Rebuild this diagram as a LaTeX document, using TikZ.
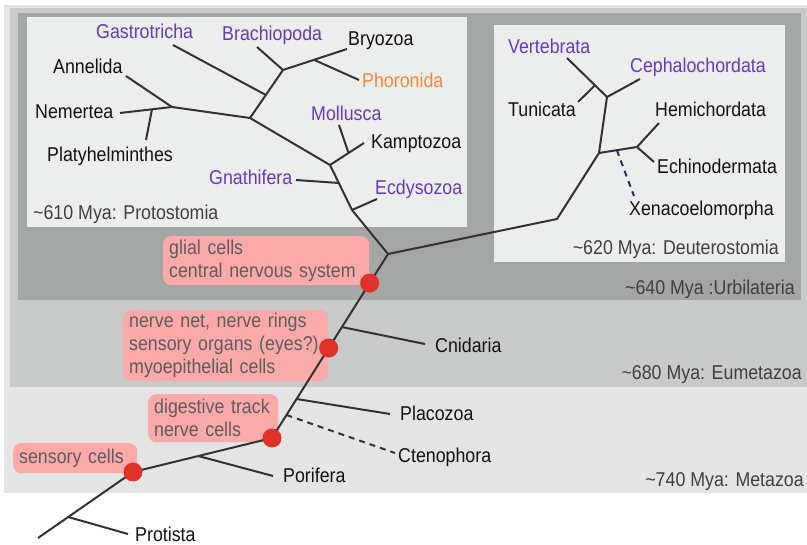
\documentclass[tikz,border=0pt]{standalone}
\usepackage{fontspec}
\setmainfont[FakeStretch=0.89]{Liberation Sans}
\usetikzlibrary{calc}
\definecolor{metazoa}{HTML}{E4E4E4}
\definecolor{eumetazoa}{HTML}{C8C9C9}
\definecolor{urbilat}{HTML}{A4A5A5}
\definecolor{cladebox}{HTML}{ECEEED}
\definecolor{branch}{HTML}{333333}
\definecolor{purp}{HTML}{673AB7}
\definecolor{oran}{HTML}{F5873A}
\definecolor{calloutfill}{HTML}{FBA9A9}
\definecolor{callouttext}{HTML}{5E5E5E}
\definecolor{dotred}{HTML}{E0312A}
\definecolor{xeno}{HTML}{2B2B66}
\tikzset{
  taxon/.style={anchor=base west,inner sep=0pt,font=\fontsize{20}{23}\selectfont,text=black!93},
  pur/.style={taxon,text=purp},
  era/.style={anchor=base east,inner sep=0pt,font=\fontsize{20}{23}\selectfont,text=black!75},
  callout/.style={anchor=north west,fill=calloutfill,rounded corners=8pt,align=left,text=callouttext,
    font=\fontsize{20}{23}\selectfont,inner xsep=6pt,inner ysep=3pt},
  event/.style={circle,fill=dotred,minimum size=19pt,inner sep=0pt},
  branchline/.style={draw=branch,line width=2pt,line join=round},
  lost/.style={branchline,dash pattern=on 6pt off 5pt}
}
\begin{document}
\begin{tikzpicture}[x=1pt,y=-1pt]
\useasboundingbox (0,0) rectangle (807,545);
\fill[white] (0,0) rectangle (807,545);
\fill[metazoa] (4,5) rectangle (807,493);
\fill[eumetazoa] (10,8) rectangle (807,387);
\fill[urbilat] (18,13) rectangle (801,300);
\fill[cladebox] (27,17) rectangle (467,227);
\fill[cladebox] (494,25) rectangle (785,262);

\node[era,anchor=base west] (protostomia) at (33,220) {\textasciitilde 610 Mya: Protostomia};
\node[era] (deuterostomia) at (779,255) {\textasciitilde 620 Mya: Deuterostomia};
\node[era] (urbilateria) at (795,295) {\textasciitilde 640 Mya :Urbilateria};
\node[era] (eumetazoa) at (802,380) {\textasciitilde 680 Mya: Eumetazoa};
\node[era] (metazoa) at (804,486.7) {\textasciitilde 740 Mya: Metazoa};

\node[callout,text width=194pt,minimum height=49pt] (glialbox) at (163,236) {glial cells\\central nervous system};
\node[callout,text width=193pt,minimum height=69pt] (netbox) at (123,310) {nerve net, nerve rings\\sensory organs (eyes?)\\myoepithelial cells};
\node[callout,text width=118pt,minimum height=48pt] (digestbox) at (148,394) {digestive track\\nerve cells};
\node[callout,text width=112pt,minimum height=30pt] (sensebox) at (13,443) {sensory cells};

\coordinate (root) at (38,538);
\coordinate (sens) at (133,472);
\coordinate (dig) at (272,438);
\coordinate (urb) at (388,254);
\coordinate (protB) at ($(root)!0.318!(sens)$);
\coordinate (protE) at (128,534);
\coordinate (porB) at ($(sens)!0.47!(dig)$);
\coordinate (porE) at (273,476);
\coordinate (cteB) at ($(dig)!0.125!(urb)$);
\coordinate (cteE) at (395,453);
\coordinate (plaB) at ($(dig)!0.212!(urb)$);
\coordinate (plaE) at (390,414);
\coordinate (nnet) at ($(dig)!0.489!(urb)$);
\coordinate (cniB) at ($(dig)!0.603!(urb)$);
\coordinate (cniE) at (425,344);
\coordinate (glia) at ($(dig)!0.842!(urb)$);

\coordinate (ecdB) at (352,210);
\coordinate (ecdE) at (377,199);
\coordinate (molK) at (330,165);
\coordinate (gnaB) at ($(ecdB)!0.6!(molK)$);
\coordinate (gnaE) at (296,180);
\coordinate (kamE) at (364,143);
\coordinate (molB) at ($(molK)!0.545!(kamE)$);
\coordinate (molE) at (339,125);
\coordinate (pA) at (250,118);
\coordinate (lopho) at (283,70);
\coordinate (gasB) at ($(pA)!0.48!(lopho)$);
\coordinate (gasE) at (173,45);
\coordinate (braE) at (257,47);
\coordinate (bryE) at (347,49);
\coordinate (phoB) at ($(lopho)!0.484!(bryE)$);
\coordinate (phoE) at (359,80);
\coordinate (pB) at (172,107);
\coordinate (annE) at (126,76);
\coordinate (nemE) at (120,113);
\coordinate (platB) at ($(pB)!0.385!(nemE)$);
\coordinate (platE) at (146,140);

\coordinate (deuA) at (557,219);
\coordinate (deuN) at (599,153);
\coordinate (chorN) at (607,97);
\coordinate (cepE) at (640,79);
\coordinate (vertE) at (567,58);
\coordinate (tunB) at ($(chorN)!0.3!(vertE)$);
\coordinate (tunE) at (578,102);
\coordinate (ambN) at (637,147);
\coordinate (hemE) at (659,123);
\coordinate (echE) at (654,162);
\coordinate (xenB) at ($(deuN)!0.47!(ambN)$);
\coordinate (xenE) at (634,196);

\draw[branchline] (root) -- (sens) -- (dig) -- (urb) -- (ecdB) -- (molK) -- (pA) -- (pB) -- (nemE);
\draw[branchline] (protB) -- (protE);
\draw[branchline] (porB) -- (porE);
\draw[lost] (cteB) -- (cteE);
\draw[branchline] (plaB) -- (plaE);
\draw[branchline] (cniB) -- (cniE);
\draw[branchline] (ecdB) -- (ecdE);
\draw[branchline] (gnaB) -- (gnaE);
\draw[branchline] (molK) -- (kamE);
\draw[branchline] (molB) -- (molE);
\draw[branchline] (pA) -- (lopho) -- (bryE);
\draw[branchline] (gasB) -- (gasE);
\draw[branchline] (lopho) -- (braE);
\draw[branchline] (phoB) -- (phoE);
\draw[branchline] (pB) -- (annE);
\draw[branchline] (platB) -- (platE);
\draw[branchline] (urb) -- (deuA) -- (deuN) -- (chorN) -- (cepE);
\draw[branchline] (chorN) -- (vertE);
\draw[branchline] (tunB) -- (tunE);
\draw[branchline] (deuN) -- (ambN) -- (hemE);
\draw[branchline] (ambN) -- (echE);
\draw[lost,draw=xeno] (xenB) -- (xenE);

\foreach \p in {sens,dig,nnet,glia}{\node[event] (dot-\p) at (\p) {};}

\node[taxon] (protista) at (135,541.5) {Protista};
\node[taxon] (porifera) at (283,483) {Porifera};
\node[taxon] (ctenophora) at (398,462.7) {Ctenophora};
\node[taxon] (placozoa) at (400,421) {Placozoa};
\node[taxon] (cnidaria) at (435,352.7) {Cnidaria};
\node[pur] (gastrotricha) at (96,39) {Gastrotricha};
\node[pur] (brachiopoda) at (222,41) {Brachiopoda};
\node[taxon] (bryozoa) at (348,45.6) {Bryozoa};
\node[taxon] (annelida) at (53,74) {Annelida};
\node[taxon,text=oran] (phoronida) at (362,88) {Phoronida};
\node[taxon] (nemertea) at (35,119) {Nemertea};
\node[pur] (mollusca) at (311,120.7) {Mollusca};
\node[taxon] (kamptozoa) at (371,149) {Kamptozoa};
\node[taxon] (platyhelminthes) at (47,161.7) {Platyhelminthes};
\node[pur] (gnathifera) at (209,185) {Gnathifera};
\node[pur] (ecdysozoa) at (375,195) {Ecdysozoa};
\node[pur] (vertebrata) at (508,53.3) {Vertebrata};
\node[pur] (cephalochordata) at (630,72.7) {Cephalochordata};
\node[taxon] (tunicata) at (508,116.7) {Tunicata};
\node[taxon] (hemichordata) at (655,116.7) {Hemichordata};
\node[taxon] (echinodermata) at (657,174) {Echinodermata};
\node[taxon] (xenacoelomorpha) at (629,216) {Xenacoelomorpha};
\end{tikzpicture}
\end{document}
